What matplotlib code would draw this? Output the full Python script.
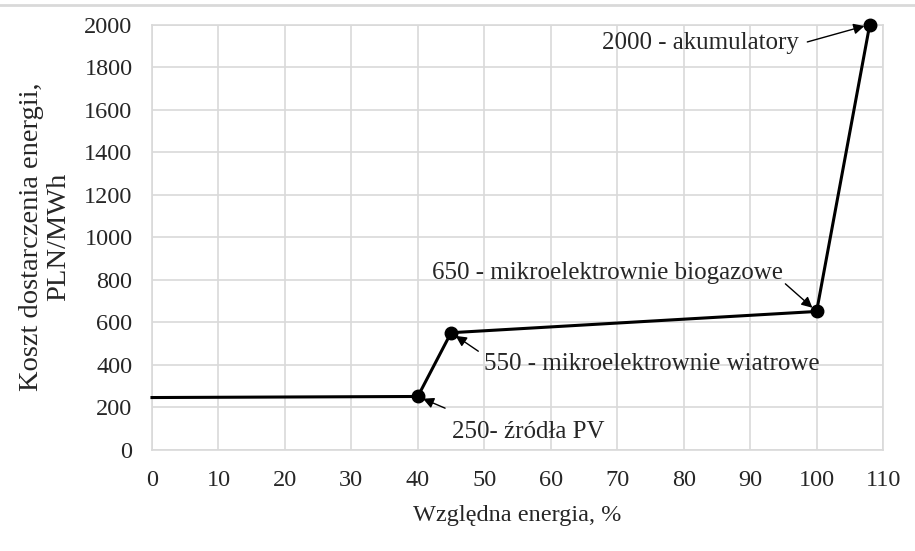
import matplotlib.pyplot as plt
from matplotlib.lines import Line2D

# Data
energy = [0, 40, 45, 100, 108]          # Względna energia, %
cost = [245, 250, 550, 650, 2000]       # PLN/MWh
marked = [1, 2, 3, 4]                   # indices of points with markers
labels = ["250- źródła PV",
          "550 - mikroelektrownie wiatrowe",
          "650 - mikroelektrownie biogazowe",
          "2000 - akumulatory"]

plt.rcParams['font.family'] = ['Liberation Serif', 'DejaVu Serif']
txt = '#262626'
grid = '#d9d9d9'

fig = plt.figure(figsize=(9.15, 5.51), dpi=100)
ax = fig.add_axes([0.1661, 0.184, 0.799, 0.7715])

ax.plot(energy, cost, color='black', lw=2.2, zorder=3, clip_on=False)
ax.plot([energy[i] for i in marked], [cost[i] for i in marked], 'o',
        color='black', ms=9, zorder=4, clip_on=False)

ax.set_xlim(0, 110)
ax.set_ylim(0, 2000)
ax.set_xticks(range(0, 111, 10))
ax.set_yticks(range(0, 2001, 200))
ax.grid(True, color=grid, lw=1.2)
ax.set_axisbelow(True)
for s in ax.spines.values():
    s.set_color(grid)
    s.set_linewidth(1.2)
ax.tick_params(length=0, labelsize=17.5, labelcolor=txt)
ax.tick_params(axis='x', pad=15)
ax.tick_params(axis='y', pad=14)

ax.set_xlabel("Względna energia, %", fontsize=17.5, color=txt)
ax.set_ylabel("Koszt dostarczenia energii,\nPLN/MWh", fontsize=20.5,
              color=txt, linespacing=1.1)
ax.xaxis.set_label_coords(0.5, -0.13)
ax.yaxis.set_label_coords(-0.146, 0.5)
ax.yaxis.label.set_va('center')

# annotations: text position, alignment, arrow tail
text_pos = [(45.2, 82), (50.0, 402), (95.0, 830), (97.3, 1913)]
text_ha = ['left', 'left', 'right', 'right']
tails = [(44.1, 195), (49.1, 463), (95.3, 780), (98.6, 1918)]
arrow = dict(arrowstyle='-|>', color='black', lw=1.0, mutation_scale=16,
             shrinkA=0, shrinkB=4)
for k, i in enumerate(marked):
    ax.text(text_pos[k][0], text_pos[k][1], labels[k], fontsize=18,
            color=txt, ha=text_ha[k], va='center')
    ax.annotate('', xy=(energy[i], cost[i]), xytext=tails[k],
                arrowprops=arrow, zorder=5)

# light frame line at the top of the image
fig.add_artist(Line2D([0, 1], [0.991, 0.991], color=grid, lw=2,
                      transform=fig.transFigure))

fig.savefig('out.png', dpi=100)
